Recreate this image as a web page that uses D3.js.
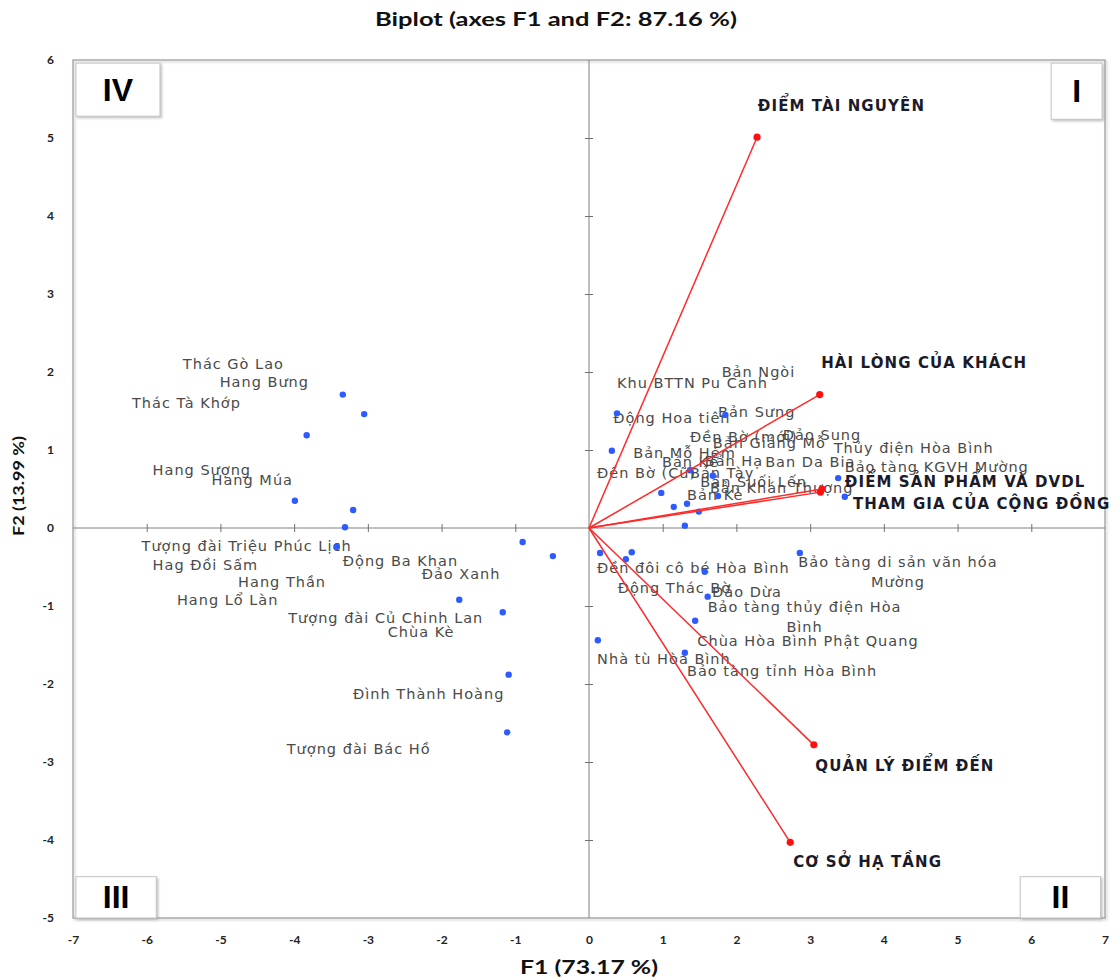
<!DOCTYPE html>
<html><head><meta charset="utf-8">
<script src="https://cdn.jsdelivr.net/npm/d3@7"></script>
<style>body{margin:0;background:#fff}</style>
</head><body>
<svg id="c" width="1119" height="979"></svg>
<script>
// ---- DATA ----
const xTicks = [-7,-6,-5,-4,-3,-2,-1,0,1,2,3,4,5,6,7];
const yTicks = [-5,-4,-3,-2,-1,0,1,2,3,4,5,6];

// observation points (F1, F2)
const obsF1 = [-3.34,-3.05,-3.83,-3.99,-3.20,-3.31,-3.42,-0.90,-0.49,-1.76,-1.17,-1.09,-1.11,
  0.31,0.38,1.85,1.37,0.98,1.15,1.33,1.49,1.30,1.68,1.75,3.38,3.47,
  0.15,0.50,0.58,1.57,1.61,1.44,0.12,1.30,2.86];
const obsF2 = [1.71,1.46,1.19,0.35,0.23,0.01,-0.24,-0.18,-0.36,-0.92,-1.08,-1.88,-2.62,
  0.99,1.47,1.45,0.74,0.45,0.27,0.31,0.21,0.03,0.67,0.41,0.64,0.40,
  -0.32,-0.40,-0.31,-0.56,-0.88,-1.19,-1.44,-1.60,-0.32];

// observation labels and their anchor (F1, F2) as placed in the picture
const labelNames = ["Thác Gò Lao","Hang Bưng","Thác Tà Khớp","Hang Sượng","Hang Múa",
  "Tượng đài Triệu Phúc Lịch","Hag Đồi  Sấm","Hang Thần","Hang Lổ Làn","Động Ba Khan","Đảo Xanh",
  "Tượng đài Củ Chinh Lan","Chùa Kè","Đình  Thành Hoàng","Tượng đài Bác Hồ",
  "Khu BTTN Pu Canh","Bản Ngòi","Bản Sưng","Động Hoa tiên","Đền Bờ (mới)","Đảo Sung","Bản Giáng Mỗ",
  "Thủy điện Hòa  Bình","Bản  Mỗ Hém","Bảo tàng KGVH Mường","Bản Kế","Bản Hạ","Ban Da Bia","Đền Bờ (Cũ)",
  "Bản Tày","Bản Suối Lến","Bản Khán Thượng","Bản Kè",
  "Đền đôi cô bé Hòa Bình","Động Thác Bờ","Đảo Dừa","Bảo tàng thủy điện Hòa|Bình",
  "Chùa Hòa Bình Phật Quang","Nhà tù Hòa Bình","Bảo tàng tỉnh Hòa Bình","Bảo tàng di sản văn hóa|Mường"];
const labelF1 = [-5.51,-5.01,-6.20,-5.92,-5.12,-6.07,-5.92,-4.76,-5.59,-3.34,-2.27,-4.08,-2.73,-3.20,-4.10,
  0.38,1.80,1.75,0.33,1.37,2.63,1.68,3.32,0.60,3.47,0.99,1.57,2.39,0.11,1.37,1.51,1.64,1.33,
  0.11,0.39,1.67,1.61,1.47,0.11,1.33,2.84];
const labelF2 = [2.10,1.87,1.60,0.74,0.62,-0.23,-0.47,-0.69,-0.92,-0.42,-0.59,-1.15,-1.33,-2.13,-2.83,
  1.86,2.00,1.49,1.41,1.17,1.19,1.09,1.03,0.96,0.78,0.85,0.86,0.85,0.71,0.71,0.59,0.51,0.42,
  -0.51,-0.77,-0.82,-1.01,-1.45,-1.68,-1.83,-0.44];

// variable vectors
const varNames = ["ĐIỂM TÀI NGUYÊN","HÀI LÒNG CỦA KHÁCH","ĐIỂM SẢN PHẨM VÀ DVDL","THAM GIA CỦA CỘNG ĐỒNG","QUẢN LÝ ĐIỂM ĐẾN","CƠ SỞ HẠ TẦNG"];
const varF1 = [2.28,3.13,3.16,3.14,3.05,2.73];
const varF2 = [5.01,1.71,0.50,0.46,-2.78,-4.03];
const varLabelF1 = [2.29,3.15,3.47,3.58,3.07,2.77];
const varLabelF2 = [5.42,2.12,0.59,0.32,-3.05,-4.28];

const quadrants = [
  {name:"IV", f1:[-6.96,-5.82], f2:[5.96,5.28]},
  {name:"I", f1:[6.27,6.96], f2:[5.96,5.24]},
  {name:"III", f1:[-6.96,-5.87], f2:[-4.47,-5]},
  {name:"II", f1:[5.85,6.94], f2:[-4.47,-5]}
];

// ---- CHART ----
const svg = d3.select("#c");
const x = d3.scaleLinear().domain([-7,7]).range([73,1105]);
const y = d3.scaleLinear().domain([-5,6]).range([918,60]);

const defs = svg.append("defs");
const f = defs.append("filter").attr("id","sh").attr("x","-10%").attr("y","-10%").attr("width","130%").attr("height","130%");
f.append("feDropShadow").attr("dx",1.5).attr("dy",1.5).attr("stdDeviation",1).attr("flood-color","#999").attr("flood-opacity",0.6);

// title
svg.append("text").attr("x",556).attr("y",26).attr("text-anchor","middle")
  .attr("font-family","Lato, 'Open Sans', sans-serif").attr("font-weight","bold").attr("font-size",18)
  .attr("fill","#111").attr("textLength",362).attr("lengthAdjust","spacingAndGlyphs")
  .text("Biplot (axes F1 and F2: 87.16 %)");

// frame
svg.append("rect").attr("x",x(-7)).attr("y",y(6)).attr("width",x(7)-x(-7)).attr("height",y(-5)-y(6))
  .attr("fill","none").attr("stroke","#9a9a9a").attr("stroke-width",1.2).attr("filter","url(#sh)");

// zero lines
svg.append("line").attr("x1",x(-7)).attr("x2",x(7)).attr("y1",y(0)).attr("y2",y(0)).attr("stroke","#808080");
svg.append("line").attr("x1",x(0)).attr("x2",x(0)).attr("y1",y(6)).attr("y2",y(-5)).attr("stroke","#808080");

// tick marks on zero lines
const xt = svg.append("g").attr("transform",`translate(0,${y(0)-4})`)
  .call(d3.axisBottom(x).tickValues(xTicks.filter(d=>d!==0 && Math.abs(d)<7)).tickSize(8).tickFormat(""));
xt.select(".domain").remove();
xt.selectAll("line").attr("stroke","#707070");
const yt = svg.append("g").attr("transform",`translate(${x(0)+4},0)`)
  .call(d3.axisLeft(y).tickValues(yTicks.filter(d=>d!==0 && d>-5 && d<6)).tickSize(8).tickFormat(""));
yt.select(".domain").remove();
yt.selectAll("line").attr("stroke","#707070");

// tick labels
const tickFont = "Lato, 'Liberation Sans', sans-serif";
const fmt = d => String(d);
const xl = svg.append("g").attr("transform",`translate(0,${y(-5)+14})`)
  .call(d3.axisBottom(x).tickValues(xTicks).tickSize(0).tickFormat(fmt));
xl.select(".domain").remove();
xl.selectAll("text").attr("font-family",tickFont).attr("font-weight","bold").attr("font-size",12).attr("fill","#222");
const yl = svg.append("g").attr("transform",`translate(58,0)`)
  .call(d3.axisLeft(y).tickValues(yTicks).tickSize(0).tickPadding(4).tickFormat(fmt));
yl.select(".domain").remove();
yl.selectAll("text").attr("font-family",tickFont).attr("font-weight","bold").attr("font-size",12).attr("fill","#222");

// axis titles
svg.append("text").attr("x",589).attr("y",974).attr("text-anchor","middle")
  .attr("font-family",tickFont).attr("font-weight","bold").attr("font-size",18).attr("fill","#111")
  .attr("textLength",138).attr("lengthAdjust","spacingAndGlyphs").text("F1 (73.17 %)");
svg.append("text").attr("transform","translate(24,486) rotate(-90)").attr("text-anchor","middle")
  .attr("font-family",tickFont).attr("font-weight","bold").attr("font-size",15).attr("fill","#111")
  .attr("textLength",100).attr("lengthAdjust","spacingAndGlyphs").text("F2 (13.99 %)");

// quadrant boxes
const qg = svg.append("g").selectAll("g").data(quadrants).join("g");
qg.append("rect")
  .attr("x",d=>x(d.f1[0])).attr("y",d=>y(d.f2[0]))
  .attr("width",d=>x(d.f1[1])-x(d.f1[0])).attr("height",d=>y(d.f2[1])-y(d.f2[0]))
  .attr("fill","#fff").attr("stroke","#c4c4c4").attr("filter","url(#sh)");
qg.append("text")
  .attr("x",d=>(x(d.f1[0])+x(d.f1[1]))/2).attr("y",d=>(y(d.f2[0])+y(d.f2[1]))/2+11)
  .attr("text-anchor","middle").attr("font-family","'Liberation Sans', Arial, sans-serif")
  .attr("font-weight","bold").attr("font-size",32).attr("fill","#000").text(d=>d.name);

// observation labels
const lblFont = "'DejaVu Sans', Verdana, sans-serif";
const lg = svg.append("g").attr("font-family",lblFont).attr("font-size",14.5).attr("letter-spacing",1)
  .attr("fill","#4a4a4a");
labelNames.forEach((n,i)=>{
  const parts = n.split("|");
  const t = lg.append("text").attr("x",x(labelF1[i])).attr("y",y(labelF2[i])+5).text(parts[0]);
  if(parts.length>1){
    const w = t.node().getComputedTextLength();
    const cx = x(labelF1[i]) + w/2;
    t.attr("x",cx).attr("text-anchor","middle");
    lg.append("text").attr("x",cx).attr("y",y(labelF2[i])+5+20).attr("text-anchor","middle").text(parts[1]);
  }
});

// observation points
svg.append("g").selectAll("circle").data(obsF1.map((d,i)=>[d,obsF2[i]])).join("circle")
  .attr("cx",d=>x(d[0])).attr("cy",d=>y(d[1])).attr("r",3.2).attr("fill","#2d5bff");

// vectors
const vg = svg.append("g");
varNames.forEach((n,i)=>{
  vg.append("line").attr("x1",x(0)).attr("y1",y(0)).attr("x2",x(varF1[i])).attr("y2",y(varF2[i]))
    .attr("stroke","#ff2a2a").attr("stroke-width",1.5);
  vg.append("circle").attr("cx",x(varF1[i])).attr("cy",y(varF2[i])).attr("r",3.6).attr("fill","#ff1010");
  vg.append("text").attr("x",x(varLabelF1[i])).attr("y",y(varLabelF2[i])+5.5)
    .attr("font-family",lblFont).attr("font-weight","bold").attr("font-size",15).attr("letter-spacing",1.1)
    .attr("fill","#1a1a2a").text(n);
});
</script>
</body></html>
